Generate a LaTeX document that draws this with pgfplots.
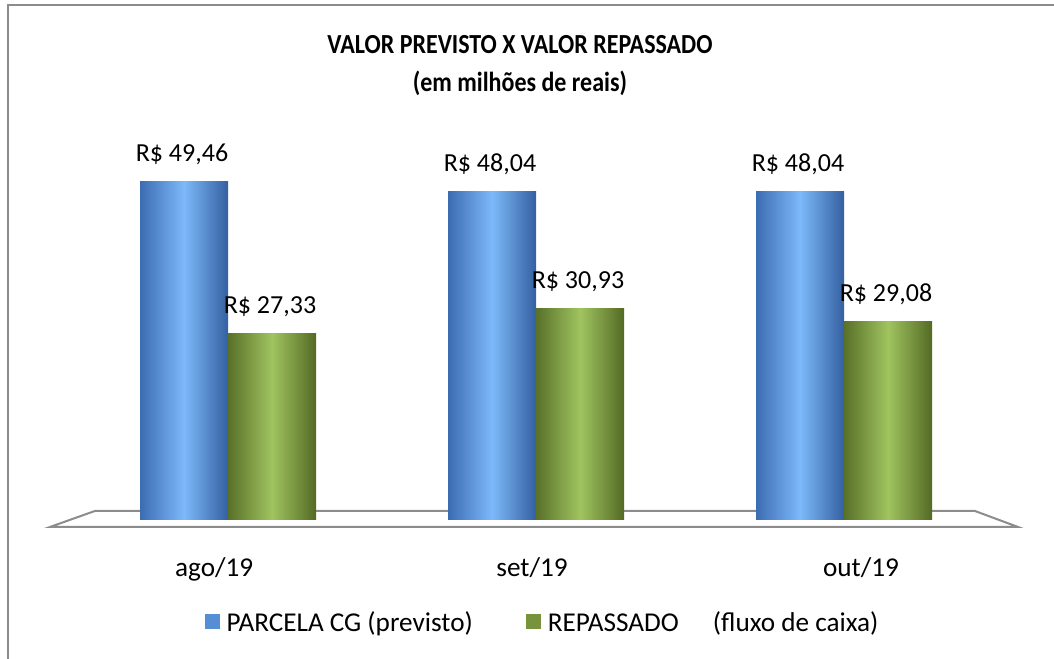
\documentclass[border=0pt]{standalone}
\usepackage{pgfplots}
\pgfplotsset{compat=1.18}
\usepackage{fontspec}
\setmainfont{Carlito}
\definecolor{bdark}{RGB}{60,108,178}
\definecolor{blight}{RGB}{125,185,250}
\definecolor{bdark2}{RGB}{52,96,160}
\definecolor{gdark}{RGB}{88,112,40}
\definecolor{glight}{RGB}{160,196,96}
\definecolor{gdark2}{RGB}{84,106,36}
\definecolor{bleg}{RGB}{85,142,213}
\definecolor{gleg}{RGB}{119,147,60}
\definecolor{framegray}{RGB}{140,140,140}
\pgfplotsset{
  bluebar/.style={draw=none, bar shift=-33pt, left color=bdark, right color=bdark2, middle color=blight,
    legend image code/.code={\node[fill=bleg, draw=none, inner sep=0pt, minimum size=11.25pt, anchor=south west] at (0pt,-5pt) {};}},
  greenbar/.style={draw=none, bar shift=33pt, left color=gdark, right color=gdark2, middle color=glight,
    legend image code/.code={\node[fill=gleg, draw=none, inner sep=0pt, minimum size=11.25pt, anchor=south west] at (0pt,-5pt) {};}},
}
\begin{document}
\begin{tikzpicture}[x=0.75pt,y=0.75pt]
\useasboundingbox (-74,-139) rectangle (980,520);
\draw[framegray, line width=1.5pt] (-66,-139) -- (-66,515) -- (980,515);
\node[font=\fontsize{18}{22}\selectfont\bfseries, anchor=base, inner sep=0pt] at (446,466.5) {\scalebox{1}[1.15]{VALOR PREVISTO X VALOR REPASSADO}};
\node[font=\fontsize{18}{22}\selectfont\bfseries, anchor=base, inner sep=0pt] at (446,428) {\scalebox{1}[1.15]{(em milhões de reais)}};
\begin{axis}[
  scale only axis, width=693pt, height=307.8pt,
  xmin=-0.5, xmax=2.5, ymin=0, ymax=60,
  clip=false,
  axis line style={draw=none}, tick style={draw=none},
  ytick=\empty,
  xtick={-0.045,0.987,2.055},
  xticklabels={ago/19,set/19,out/19},
  xticklabel style={anchor=base, yshift=-38pt, font=\fontsize{20.4}{24}\selectfont},
  ybar=0pt, bar width=66pt,
  nodes near coords, point meta=explicit symbolic,
  every node near coord/.append style={anchor=base, yshift=15pt, xshift=-1.5pt, text=black, font=\fontsize{19.5}{24}\selectfont},
  legend columns=2,
  legend style={draw=none, fill=none, at={(0.506,-0.251)}, anchor=center,
    font=\fontsize{20.4}{24}\selectfont, nodes={inner sep=0pt},
    /tikz/every odd column/.append style={column sep=5.25pt},
    /tikz/every even column/.append style={column sep=39.75pt}},
]
\draw[framegray, line width=1.5pt, fill=white] (axis cs:-0.578,-1.02) -- (axis cs:-0.432,1.32) -- (axis cs:2.425,1.32) -- (axis cs:2.565,-1.02) -- cycle;
\addplot[bluebar] coordinates {(0,49.46)[R\$ 49,46]};
\addlegendentry{PARCELA CG (previsto)}
\addplot[greenbar] coordinates {(0,27.33)[R\$ 27,33]};
\addlegendentry{REPASSADO\hspace{25.5pt}(fluxo de caixa)}
\addplot[bluebar, forget plot] coordinates {(1,48.04)[R\$ 48,04]};
\addplot[bluebar, forget plot] coordinates {(2,48.04)[R\$ 48,04]};
\addplot[greenbar, forget plot] coordinates {(1,30.93)[R\$ 30,93]};
\addplot[greenbar, forget plot] coordinates {(2,29.08)[R\$ 29,08]};
\end{axis}
\end{tikzpicture}
\end{document}
